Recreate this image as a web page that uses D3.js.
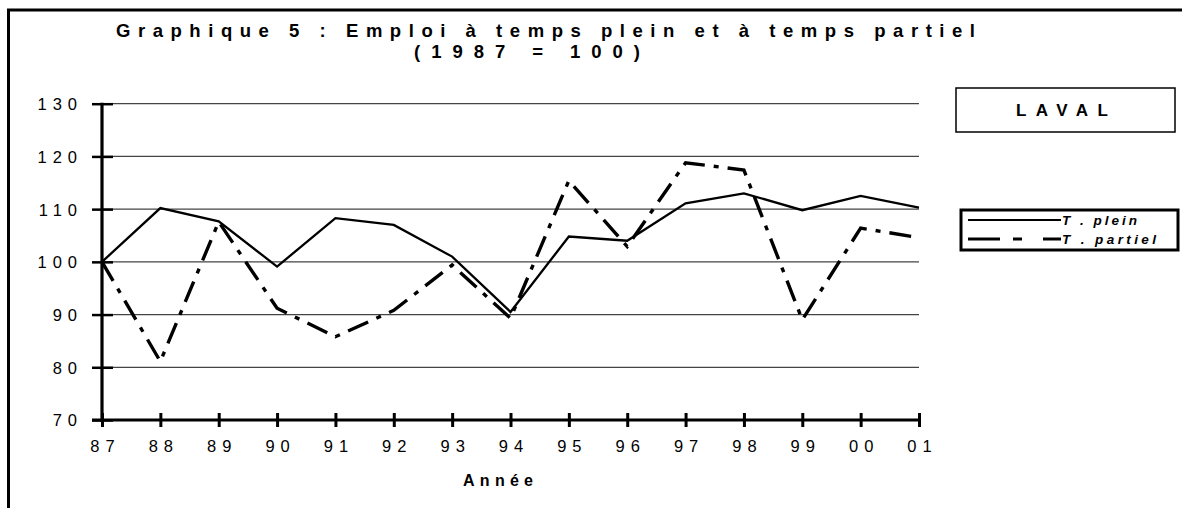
<!DOCTYPE html>
<html><head><meta charset="utf-8">
<script src="https://cdn.jsdelivr.net/npm/d3@7/dist/d3.min.js"></script>
<style>
html,body{margin:0;padding:0;background:#fff;}
svg{display:block;font-family:"Liberation Sans",Arial,sans-serif;}
</style></head>
<body>
<svg id="chart" width="1182" height="508"></svg>
<script>
const years = ["87","88","89","90","91","92","93","94","95","96","97","98","99","00","01"];
const tPlein = [100,110.2,107.7,99.1,108.3,107.0,101.0,90.5,104.8,104.0,111.1,113.0,109.8,112.5,110.3];
const tPartiel = [100,81.1,107.6,91.2,85.8,90.8,99.4,89.3,115.4,102.9,118.8,117.4,89.0,106.4,104.6];
const yTicks = [70,80,90,100,110,120,130];
const seriesNames = ["T . plein","T . partiel"];
const titleLines = ["Graphique 5 : Emploi à temps plein et à temps partiel","(1987 = 100)"];
const xTitle = "Année";
const boxLabel = "LAVAL";

const FF = "Liberation Sans, Arial, sans-serif";
const svg = d3.select("#chart");
// outer frame
svg.append("path").attr("d","M8.5,520 L8.5,10 L1200,10").attr("fill","none").attr("stroke","#000").attr("stroke-width",3);

const x = d3.scaleLinear().domain([0, years.length-1]).range([102, 919]);
const y = d3.scaleLinear().domain([70,130]).range([420, 103.7]);

// gridlines
svg.append("g").selectAll("line").data(yTicks.filter(d=>d>70)).join("line")
  .attr("x1",102).attr("x2",919).attr("y1",d=>y(d)).attr("y2",d=>y(d))
  .attr("stroke","#444").attr("stroke-width",1.2);

// y axis
const yAx = svg.append("g").attr("transform","translate(102,0)")
  .call(d3.axisLeft(y).tickValues(yTicks).tickSize(10).tickFormat(d=>String(d)));
yAx.select(".domain").remove();
yAx.selectAll(".tick line").attr("x1",11).attr("x2",-10).attr("stroke","#000").attr("stroke-width",2.5);
yAx.selectAll(".tick text").attr("x",-25+6).attr("dy","0.36em").attr("font-size",16.5).attr("letter-spacing","6px")
  .attr("fill","#000").attr("font-family",FF);
svg.append("line").attr("x1",102).attr("x2",102).attr("y1",y(130)-1).attr("y2",y(70)+2)
  .attr("stroke","#000").attr("stroke-width",3.2);

// x axis
const xAx = svg.append("g").attr("transform","translate(0,420)")
  .call(d3.axisBottom(x).tickValues(d3.range(years.length)).tickSize(7).tickFormat(i=>years[i]));
xAx.select(".domain").remove();
xAx.selectAll(".tick line").attr("y1",-7).attr("y2",7).attr("stroke","#000").attr("stroke-width",3);
xAx.selectAll(".tick text").attr("y",20).attr("dx","3px").attr("font-size",16.5).attr("letter-spacing","6px")
  .attr("fill","#000").attr("font-family",FF);
svg.append("line").attr("x1",92).attr("x2",919).attr("y1",420).attr("y2",420)
  .attr("stroke","#000").attr("stroke-width",3);

// lines
const line = d3.line().x((d,i)=>x(i)).y(d=>y(d));
svg.append("path").datum(tPartiel).attr("d",line).attr("fill","none").attr("stroke","#000")
  .attr("stroke-width",3.4).attr("stroke-dasharray","22,9,5,9");
svg.append("path").datum(tPlein).attr("d",line).attr("fill","none").attr("stroke","#000")
  .attr("stroke-width",2.3).attr("stroke-linejoin","miter");

// title
svg.append("text").attr("x",116).attr("y",37).attr("font-size",18.5).attr("font-weight","bold").attr("font-family",FF)
  .attr("textLength",859).attr("lengthAdjust","spacing").text(titleLines[0]);
svg.append("text").attr("x",414).attr("y",58).attr("font-size",18.5).attr("font-weight","bold").attr("font-family",FF)
  .attr("textLength",226).attr("lengthAdjust","spacing").text(titleLines[1]);

// x title
svg.append("text").attr("x",463).attr("y",486).attr("font-size",16).attr("font-weight","bold").attr("font-family",FF)
  .attr("textLength",70).attr("lengthAdjust","spacing").text(xTitle);

// LAVAL box
svg.append("rect").attr("x",956).attr("y",88).attr("width",219).attr("height",44)
  .attr("fill","#fff").attr("stroke","#000").attr("stroke-width",1.5);
svg.append("text").attr("x",1016).attr("y",116).attr("font-size",17).attr("font-weight","bold").attr("font-family",FF)
  .attr("textLength",92).attr("lengthAdjust","spacing").text(boxLabel);

// legend
svg.append("rect").attr("x",961).attr("y",210).attr("width",217).attr("height",40)
  .attr("fill","#fff").attr("stroke","#000").attr("stroke-width",3);
svg.append("line").attr("x1",968).attr("x2",1061).attr("y1",220).attr("y2",220)
  .attr("stroke","#000").attr("stroke-width",1.8);
svg.append("line").attr("x1",968).attr("x2",1061).attr("y1",239).attr("y2",239)
  .attr("stroke","#000").attr("stroke-width",3).attr("stroke-dasharray","32,13,9,21,18");
svg.append("text").attr("x",1062).attr("y",225).attr("font-size",13.5).attr("font-weight","bold").attr("font-family",FF)
  .attr("font-style","italic").attr("textLength",75).attr("lengthAdjust","spacing").text(seriesNames[0]);
svg.append("text").attr("x",1062).attr("y",244).attr("font-size",13.5).attr("font-weight","bold").attr("font-family",FF)
  .attr("font-style","italic").attr("textLength",94).attr("lengthAdjust","spacing").text(seriesNames[1]);
</script>
</body></html>
